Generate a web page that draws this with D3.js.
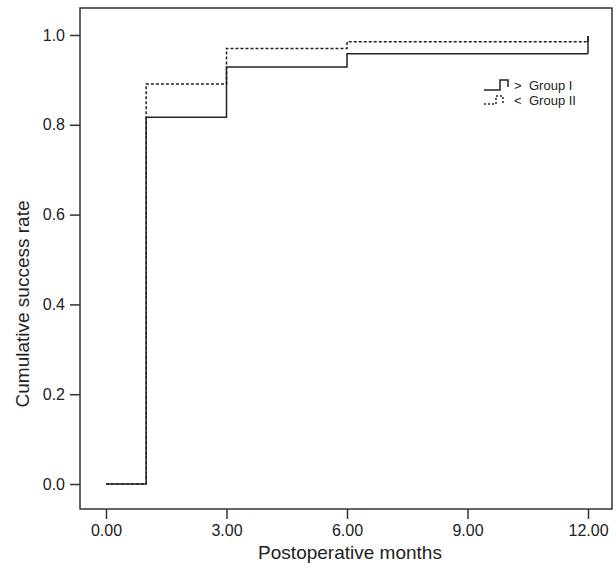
<!DOCTYPE html>
<html>
<head>
<meta charset="utf-8">
<script src="https://cdn.jsdelivr.net/npm/d3@7"></script>
<style>
  body { margin: 0; background: #fff; }
  text { font-family: "Liberation Sans", Arial, sans-serif; fill: #222; }
</style>
</head>
<body>
<div id="chart"></div>
<script>
// step data (months, cumulative success rate)
var months = [0, 1, 3, 6, 12];
var groupI  = [0, 0.817, 0.929, 0.958, 0.958];
var groupII = [0, 0.891, 0.970, 0.985, 0.985];
var censorTop = 0.998;
var xTicks = [0, 3, 6, 9, 12];
var yTicks = [0, 0.2, 0.4, 0.6, 0.8, 1.0];
var seriesNames = ["Group I", "Group II"];
var seriesMarks = [">", "<"];

var W = 616, H = 569;
var svg = d3.select("#chart").append("svg").attr("width", W).attr("height", H);

var x = d3.scaleLinear().domain([0, 12]).range([106, 588]);
var y = d3.scaleLinear().domain([0, 1]).range([484, 35]);

// frame
svg.append("rect").attr("x", 80).attr("y", 8).attr("width", 532).attr("height", 501)
  .attr("fill", "none").attr("stroke", "#333").attr("stroke-width", 1.5);

// axes
var xAxis = svg.append("g").attr("transform", "translate(0,509)")
  .call(d3.axisBottom(x).tickValues(xTicks).tickSize(10).tickPadding(6).tickFormat(d3.format(".2f")));
var yAxis = svg.append("g").attr("transform", "translate(80,0)")
  .call(d3.axisLeft(y).tickValues(yTicks).tickSize(10).tickPadding(5).tickFormat(d3.format(".1f")));
[xAxis, yAxis].forEach(function(a){
  a.select(".domain").remove();
  a.selectAll(".tick line").attr("stroke", "#333").attr("stroke-width", 1.5);
  a.selectAll(".tick text").style("font-size", "16px").attr("fill", "#222");
});

svg.append("text").attr("x", 350).attr("y", 559).attr("text-anchor", "middle")
  .style("font-size", "19px").text("Postoperative months");
svg.append("text").attr("transform", "translate(29,304) rotate(-90)").attr("text-anchor", "middle")
  .style("font-size", "19px").text("Cumulative success rate");

// survival step lines
var line = d3.line().x(function(d){ return x(d[0]); }).y(function(d){ return y(d[1]); }).curve(d3.curveStepAfter);

function draw(vals, dashed){
  var pts = months.map(function(m, i){ return [m, vals[i]]; });
  var p = svg.append("path").attr("d", line(pts)).attr("fill", "none")
    .attr("stroke", "#222").attr("stroke-width", 1.5);
  if (dashed) p.attr("stroke-dasharray", "3,2");
  // censor mark at the last month
  svg.append("line").attr("x1", x(12)).attr("x2", x(12))
    .attr("y1", y(vals[vals.length - 1])).attr("y2", y(censorTop))
    .attr("stroke", "#222").attr("stroke-width", 1.5);
}
draw(groupII, true);
draw(groupI, false);

// legend
var leg = svg.append("g");
leg.append("path").attr("d", "M484,90H500V80H508V87").attr("fill", "none").attr("stroke", "#222").attr("stroke-width", 1.5);
leg.append("path").attr("d", "M484,104H496V96H503V103").attr("fill", "none").attr("stroke", "#222")
  .attr("stroke-width", 1.5).attr("stroke-dasharray", "2,2");
[0, 1].forEach(function(i){
  var by = 90 + i * 15;
  leg.append("text").attr("x", 514).attr("y", by).style("font-size", "13px").text(seriesMarks[i]);
  leg.append("text").attr("x", 529).attr("y", by).style("font-size", "13px").text(seriesNames[i]);
});
</script>
</body>
</html>
